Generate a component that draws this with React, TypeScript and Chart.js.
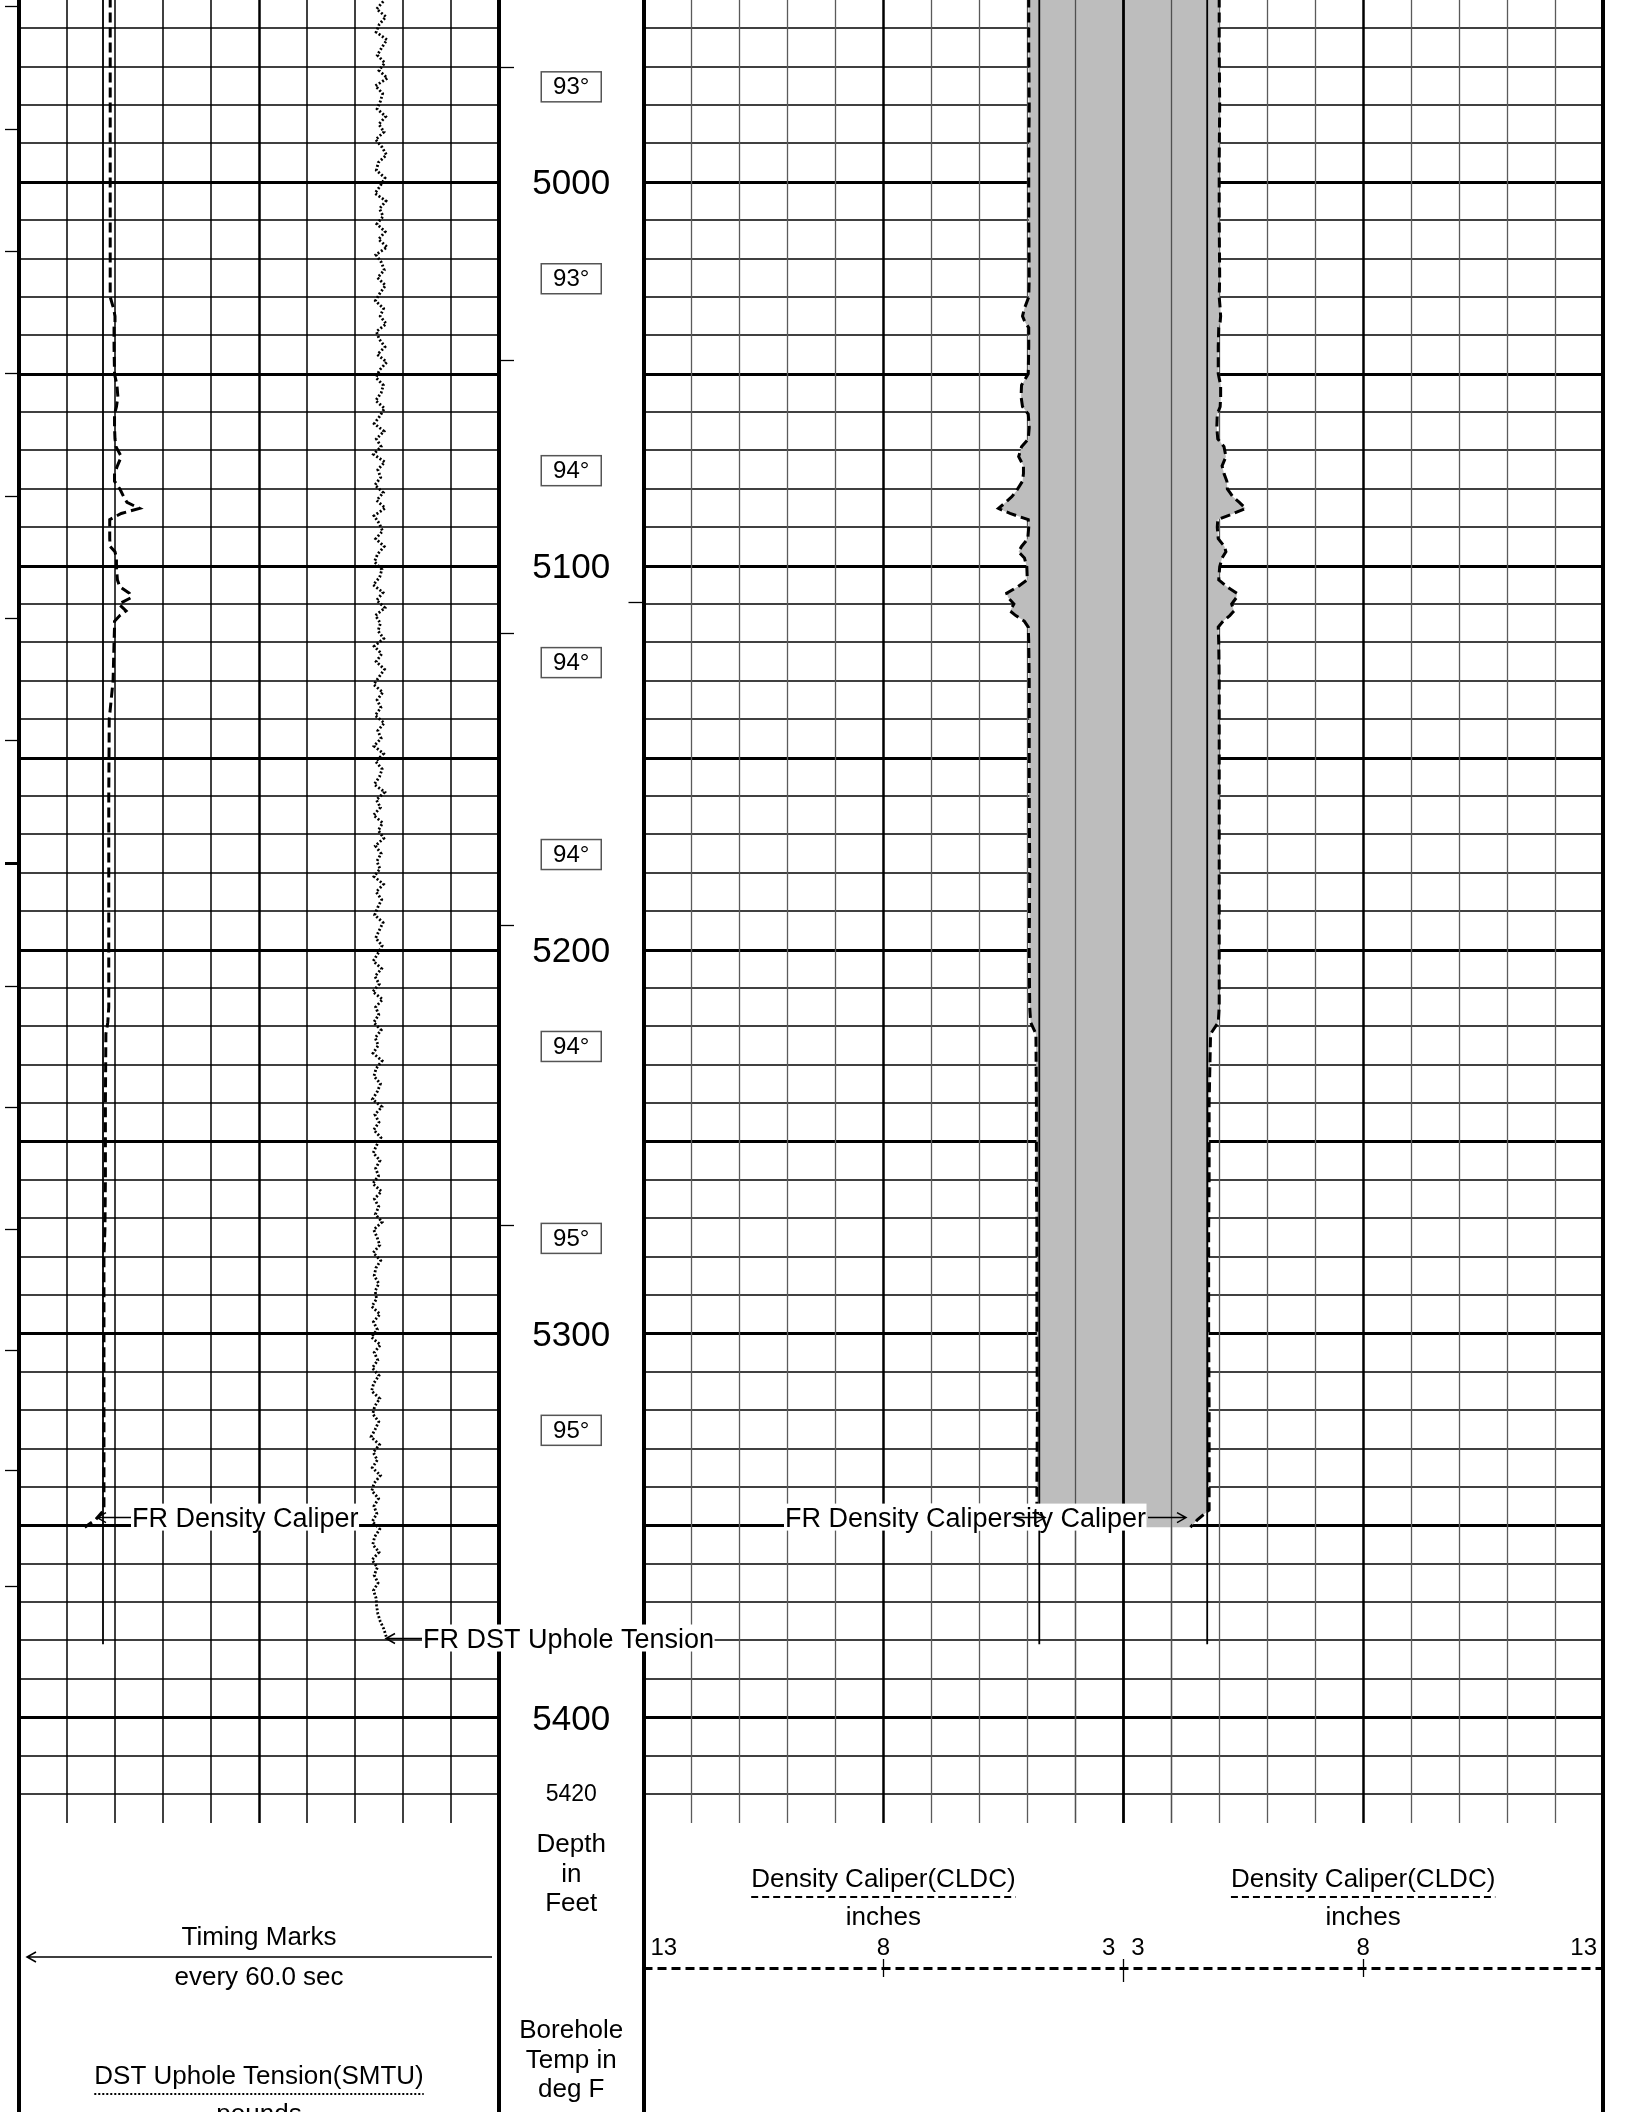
import React, { useEffect, useRef } from "react";
import { Chart, registerables } from "chart.js";

Chart.register(...registerables);

// ---------------- data ----------------
const depthTicks = [5000, 5100, 5200, 5300, 5400];
const bottomDepthLabel = 5420;
const tempDepths = [4975, 5025, 5075, 5125, 5175, 5225, 5275, 5325];
const tempValues = [93, 93, 94, 94, 94, 94, 95, 95];
const timingMarkDepths = [4954.3, 4986.2, 5017.9, 5049.8, 5081.8, 5113.6, 5145.5, 5177.5, 5209.4, 5241.0, 5272.8, 5304.3, 5335.5, 5365.8];
const boldTimingMarkDepth = 5177.5;
const depthTrackMarksLeft = [4970.2, 5046.3, 5117.5, 5193.6, 5271.9];
const depthTrackMarksRight = [5109.5];

const calDepths = [4952, 4965, 4980, 4995, 5010, 5025, 5030, 5033, 5035, 5036.5, 5038, 5043, 5050, 5053, 5056, 5058.6, 5060.5, 5064, 5067, 5069, 5071.6, 5074, 5076, 5078, 5080, 5082, 5083.5, 5085.1, 5086.4, 5088, 5090, 5093, 5095, 5096.4, 5098, 5100.3, 5103.7, 5105.5, 5107.2, 5108.3, 5110, 5111.8, 5113, 5114.5, 5116, 5120, 5130, 5140, 5160, 5180, 5200, 5215, 5219, 5222, 5240, 5260, 5273, 5280, 5300, 5320, 5340, 5346, 5348.5, 5350.5];
const calArmLeft = [
  4.97, 4.97, 4.96, 4.97, 4.97,
  4.96, 4.97, 5.06, 5.10, 5.05,
  4.97, 4.97, 4.98, 5.12, 5.13,
  5.10, 4.98, 4.96, 4.98, 5.12,
  5.18, 5.08, 5.08, 5.10, 5.20,
  5.32, 5.45, 5.60, 5.36, 4.98,
  4.97, 4.99, 5.12, 5.18, 5.06,
  5.01, 5.00, 5.20, 5.43, 5.40,
  5.28, 5.36, 5.24, 5.06, 4.98,
  4.97, 4.96, 4.96, 4.96, 4.95,
  4.96, 4.95, 4.93, 4.82, 4.81,
  4.81, 4.80, 4.80, 4.80, 4.79,
  4.80, 4.80, 4.62, 4.55,
];
const calArmRight = [
  5.00, 5.00, 5.01, 5.00, 5.00,
  5.01, 5.00, 5.02, 5.03, 5.02,
  4.99, 4.98, 4.98, 5.03, 5.03,
  5.02, 4.96, 4.95, 4.97, 5.10,
  5.14, 5.06, 5.10, 5.16, 5.17,
  5.28, 5.42, 5.55, 5.30, 4.97,
  4.96, 4.98, 5.11, 5.14, 5.06,
  5.01, 4.99, 5.16, 5.37, 5.36,
  5.26, 5.31, 5.22, 5.08, 4.98,
  4.99, 5.00, 5.00, 5.00, 5.00,
  5.00, 5.00, 4.98, 4.82, 4.79,
  4.79, 4.78, 4.78, 4.78, 4.79,
  4.79, 4.79, 4.55, 4.40,
];
const calLeftTrack = [
  4.90, 4.90, 4.90, 4.90, 4.90,
  4.90, 4.90, 4.97, 5.00, 5.00,
  4.98, 4.98, 4.99, 5.04, 5.06,
  5.03, 4.99, 4.99, 5.00, 5.02,
  5.13, 5.05, 4.99, 4.99, 5.10,
  5.18, 5.25, 5.51, 5.13, 4.89,
  4.89, 4.89, 4.90, 5.00, 5.03,
  5.03, 5.05, 5.10, 5.30, 5.34,
  5.08, 5.23, 5.10, 4.99, 4.99,
  4.98, 4.96, 4.88, 4.87, 4.87,
  4.87, 4.87, 4.85, 4.81, 4.80,
  4.80, 4.79, 4.77, 4.77, 4.77,
  4.77, 4.77, 4.60, 4.37,
];
const bitSize = 4.75;
const bitDepthRange = [4950, 5381];

const tensionStartDepth = 4953;
const tensionStep = 2;
const tensionValues = [
  15180, 14900, 15290, 15010, 14880, 15330, 15120, 14930, 15240, 15000,
  15350, 14850, 15150, 15060, 14920, 15280, 14990, 15210, 14860, 15130,
  15310, 14970, 14890, 15250, 15060, 14830, 15290, 15020, 15170, 14910,
  15260, 14980, 15340, 14870, 15100, 15220, 14940, 15270, 15040, 14850,
  15190, 15050, 15300, 14890, 15010, 15250, 14930, 15320, 15030, 14870,
  15180, 15090, 14860, 15230,
  15040, 14800, 15210, 14890, 15090, 14770, 15240, 14950, 15070, 14830,
  15180, 14900, 15260, 14790, 15010, 15150, 14860, 15220, 14940, 14810,
  15120, 15030, 14760, 15170, 14900, 15250, 14850, 15060, 14960, 15200,
  14800, 15110, 14880, 15230, 15000, 14780, 15160, 14920, 15080, 14840,
  15220, 14950, 15090, 14790, 15190, 14860, 15130, 15020, 14800, 15240,
  14890, 15060, 14770, 15150, 14970, 15200, 14850, 15090, 14910, 15040,
  14790, 15190, 14880, 15110, 14950, 14820, 15170, 15010, 14860, 15130,
  14960, 14760, 15110, 14830, 15010, 14740, 15150, 14860, 14990, 14780,
  15090, 14840, 14970, 14750, 15130, 14880, 14790, 15060, 14930, 14730,
  15120, 14830, 15000, 14780, 15080, 14900, 14760, 15040, 14860, 14980,
  14740, 15100, 14810, 14990, 14850, 15130, 14780, 14920, 15030, 14760,
  15070, 14870, 14800, 14990, 14840,
  14900, 14700, 15040, 14770, 14930, 14680, 15060, 14800, 14950, 14720,
  15000, 14780, 14690, 15030, 14820, 14740, 14990, 14840, 14670, 15020,
  14760, 14930, 14720, 15060, 14800, 14700, 14980, 14790, 14910, 14720,
  15030, 14820, 14740, 15000, 14710, 14930, 14800, 14960, 14770, 14880,
  14900, 14950, 15050, 15200, 15300,
];
const caliperScaleLabels = ["13", "8", "3"];
const calLabelDepth = 5348;
const tensionLabelDepth = 5379.5;

// ---------------- layout ----------------
const W = 1627;
const H = 2112;
const SANS = '"Liberation Sans", Arial, Helvetica, sans-serif';
const TOP_DEPTH = 4952.64;
const GRID_BOTTOM_DEPTH = 5427.56;
const GRID_BOTTOM_PX = 1823;
const LT = { l: 19, r: 499 };
const DT = { l: 499, r: 643.5 };
const RT = { l: 643.5, r: 1603 };
const CA_L = LT.l;
const CA_R = RT.r;
const lDiv = (LT.r - LT.l) / 10;
const rDiv = (RT.r - RT.l) / 20;
const rC = (RT.l + RT.r) / 2;
const depthCenterX = (DT.l + DT.r) / 2;
const LABEL_FONT = 27;

function hline(ctx: CanvasRenderingContext2D, x1: number, x2: number, y: number, w: number, color: string) {
  ctx.beginPath();
  ctx.lineWidth = w;
  ctx.strokeStyle = color;
  const yy = Math.round(w) % 2 === 1 ? Math.round(y) + 0.5 : Math.round(y);
  ctx.moveTo(x1, yy);
  ctx.lineTo(x2, yy);
  ctx.stroke();
}
function vline(ctx: CanvasRenderingContext2D, x: number, y1: number, y2: number, w: number, color: string) {
  ctx.beginPath();
  ctx.lineWidth = w;
  ctx.strokeStyle = color;
  const xx = Math.round(w) % 2 === 1 ? Math.round(x) + 0.5 : Math.round(x);
  ctx.moveTo(xx, y1);
  ctx.lineTo(xx, y2);
  ctx.stroke();
}
function txt(ctx: CanvasRenderingContext2D, s: string, x: number, y: number, size: number, align: CanvasTextAlign = "center", baseline: CanvasTextBaseline = "middle") {
  ctx.font = `${size}px ${SANS}`;
  ctx.fillStyle = "#000";
  ctx.textAlign = align;
  ctx.textBaseline = baseline;
  ctx.fillText(s, x, y);
}
function arrowH(ctx: CanvasRenderingContext2D, xTail: number, xHead: number, y: number) {
  const dir = xHead > xTail ? 1 : -1;
  ctx.beginPath();
  ctx.lineWidth = 1.5;
  ctx.strokeStyle = "#000";
  ctx.setLineDash([]);
  ctx.moveTo(xTail, y);
  ctx.lineTo(xHead, y);
  ctx.moveTo(xHead - dir * 9, y - 5);
  ctx.lineTo(xHead, y);
  ctx.lineTo(xHead - dir * 9, y + 5);
  ctx.stroke();
}
function boxLabel(ctx: CanvasRenderingContext2D, s: string, x: number, yc: number, align: "left" | "right") {
  ctx.font = `${LABEL_FONT}px ${SANS}`;
  const w = ctx.measureText(s).width;
  const xl = align === "left" ? x : x - w;
  ctx.fillStyle = "#fff";
  ctx.fillRect(xl - 1, yc - 14, w + 1.5, 27);
  txt(ctx, s, xl, yc + 9.5, LABEL_FONT, "left", "alphabetic");
  return xl + w;
}

const logPlugin = {
  id: "logPlugin",
  beforeDraw(chart: any) {
    const ctx = chart.ctx as CanvasRenderingContext2D;
    ctx.save();
    ctx.fillStyle = "#fff";
    ctx.fillRect(0, 0, W, H);
    ctx.restore();
  },
  beforeDatasetsDraw(chart: any) {
    const ctx = chart.ctx as CanvasRenderingContext2D;
    const y = chart.scales.y;
    const xL = chart.scales.xL;
    const xRL = chart.scales.xRL;
    const xRR = chart.scales.xRR;
    ctx.save();
    ctx.setLineDash([]);
    // horizontal grid
    for (let d = 4960; d <= 5420; d += 10) {
      const py = y.getPixelForValue(d);
      const bold = d % 50 === 0;
      hline(ctx, LT.l, LT.r, py, bold ? 2.8 : 1.5, "#000");
      hline(ctx, RT.l, RT.r, py, bold ? 2.8 : 1.5, "#000");
    }
    // vertical grid
    for (let v = 4; v <= 12; v++) {
      const bold = v === 8;
      vline(ctx, xL.getPixelForValue(v), 0, GRID_BOTTOM_PX, bold ? 2.5 : 1.5, "#000");
      vline(ctx, xRL.getPixelForValue(v), 0, GRID_BOTTOM_PX, bold ? 2.5 : 1.3, bold ? "#000" : "#5a5a5a");
      vline(ctx, xRR.getPixelForValue(v), 0, GRID_BOTTOM_PX, bold ? 2.5 : 1.3, bold ? "#000" : "#5a5a5a");
    }
    // caliper shading between arms
    ctx.beginPath();
    calDepths.forEach((d, i) => {
      const px = xRL.getPixelForValue(calArmLeft[i]);
      const py = y.getPixelForValue(d);
      if (i === 0) ctx.moveTo(px, py);
      else ctx.lineTo(px, py);
    });
    for (let i = calDepths.length - 1; i >= 0; i--) {
      ctx.lineTo(xRR.getPixelForValue(calArmRight[i]), y.getPixelForValue(calDepths[i]));
    }
    ctx.closePath();
    ctx.fillStyle = "#bdbdbd";
    ctx.fill();
    // inner vertical lines over shading
    vline(ctx, xRL.getPixelForValue(4), 0, GRID_BOTTOM_PX, 1.3, "#505050");
    vline(ctx, xRR.getPixelForValue(4), 0, GRID_BOTTOM_PX, 1.3, "#505050");
    vline(ctx, xRL.getPixelForValue(3), 0, GRID_BOTTOM_PX, 2.8, "#000");
    ctx.restore();
  },
  afterDraw(chart: any) {
    const ctx = chart.ctx as CanvasRenderingContext2D;
    const y = chart.scales.y;
    const xRL = chart.scales.xRL;
    const xRR = chart.scales.xRR;
    ctx.save();
    ctx.setLineDash([]);
    // track borders
    [LT.l, LT.r, DT.r, RT.r].forEach((x) => vline(ctx, x, 0, H, 4, "#000"));
    // timing marks
    timingMarkDepths.forEach((d) => {
      hline(ctx, 5, LT.l, y.getPixelForValue(d), d === boldTimingMarkDepth ? 3 : 1.3, "#000");
    });
    depthTrackMarksLeft.forEach((d) => hline(ctx, DT.l, DT.l + 15, y.getPixelForValue(d), 1.3, "#000"));
    depthTrackMarksRight.forEach((d) => hline(ctx, DT.r - 15, DT.r, y.getPixelForValue(d), 1.3, "#000"));
    // depth labels
    depthTicks.forEach((d) => txt(ctx, String(d), depthCenterX, y.getPixelForValue(d) + 3, 35));
    txt(ctx, String(bottomDepthLabel), depthCenterX, y.getPixelForValue(bottomDepthLabel) + 1, 23);
    // temperature boxes
    tempDepths.forEach((d, i) => {
      const py = y.getPixelForValue(d) + 1;
      ctx.fillStyle = "#fff";
      ctx.fillRect(depthCenterX - 30, py - 15, 60, 30);
      ctx.lineWidth = 1.5;
      ctx.strokeStyle = "#555";
      ctx.strokeRect(depthCenterX - 30, py - 15, 60, 30);
      txt(ctx, `${tempValues[i]}\u00B0`, depthCenterX, py + 1, 24);
    });

    // curve annotations
    const yc = y.getPixelForValue(calLabelDepth);
    boxLabel(ctx, "FR Density Caliper", 132, yc, "left");
    arrowH(ctx, 131, 97, yc);
    const bEnd = boxLabel(ctx, "FR Density Caliper", 1146, yc, "right");
    arrowH(ctx, bEnd + 2, 1186, yc);
    const aEnd = boxLabel(ctx, "FR Density Caliper", 785, yc, "left");
    arrowH(ctx, aEnd, 1045, yc);
    const yt = y.getPixelForValue(tensionLabelDepth);
    boxLabel(ctx, "FR DST Uphole Tension", 423, yt, "left");
    arrowH(ctx, 422, 386, yt);

    // ---- headers: left track
    const lcx = (LT.l + LT.r) / 2;
    txt(ctx, "Timing Marks", lcx, 1938, 26);
    arrowH(ctx, 492, 27, 1957);
    txt(ctx, "every 60.0 sec", lcx, 1978, 26);
    txt(ctx, "DST Uphole Tension(SMTU)", lcx, 2077, 26);
    ctx.font = `26px ${SANS}`;
    const tw = ctx.measureText("DST Uphole Tension(SMTU)").width;
    ctx.setLineDash([2, 2]);
    hline(ctx, lcx - tw / 2, lcx + tw / 2, 2094, 2, "#000");
    ctx.setLineDash([]);
    txt(ctx, "pounds", lcx, 2122, 26, "center", "alphabetic");

    // ---- headers: depth track
    txt(ctx, "Depth", depthCenterX, 1845, 26);
    txt(ctx, "in", depthCenterX, 1875, 26);
    txt(ctx, "Feet", depthCenterX, 1904, 26);
    txt(ctx, "Borehole", depthCenterX, 2031, 26);
    txt(ctx, "Temp in", depthCenterX, 2061, 26);
    txt(ctx, "deg F", depthCenterX, 2090, 26);

    // ---- headers: right track
    const hx = [xRL.getPixelForValue(8), xRR.getPixelForValue(8)];
    hx.forEach((cx) => {
      txt(ctx, "Density Caliper(CLDC)", cx, 1880, 26);
      ctx.font = `26px ${SANS}`;
      const w = ctx.measureText("Density Caliper(CLDC)").width;
      ctx.setLineDash([7, 4]);
      hline(ctx, cx - w / 2, cx + w / 2, 1897, 2, "#000");
      ctx.setLineDash([]);
      txt(ctx, "inches", cx, 1918, 26);
    });
    txt(ctx, caliperScaleLabels[0], RT.l + 7, 1948, 24, "left");
    txt(ctx, caliperScaleLabels[1], xRL.getPixelForValue(8), 1948, 24, "center");
    txt(ctx, caliperScaleLabels[2], rC - 8, 1948, 24, "right");
    txt(ctx, caliperScaleLabels[2], rC + 8, 1948, 24, "left");
    txt(ctx, caliperScaleLabels[1], xRR.getPixelForValue(8), 1948, 24, "center");
    txt(ctx, caliperScaleLabels[0], RT.r - 6, 1948, 24, "right");
    ctx.setLineDash([9, 5]);
    hline(ctx, RT.l, RT.r, 1968, 3, "#000");
    ctx.setLineDash([]);
    vline(ctx, xRL.getPixelForValue(8), 1959, 1977, 1.3, "#000");
    vline(ctx, xRR.getPixelForValue(8), 1959, 1977, 1.3, "#000");
    vline(ctx, rC, 1959, 1982, 1.3, "#000");
    ctx.restore();
  },
};

function pts(depths: number[], vals: number[]) {
  return depths.map((d, i) => ({ x: vals[i], y: d }));
}

export default function App() {
  const ref = useRef<HTMLCanvasElement | null>(null);
  useEffect(() => {
    document.body.style.margin = "0";
    const canvas = ref.current;
    if (!canvas) return;
    const tensionDepths = tensionValues.map((_, i) => tensionStartDepth + i * tensionStep);
    const lineBase = { showLine: true, pointRadius: 0, borderColor: "#000", tension: 0, fill: false };
    const chart = new Chart(canvas, {
      type: "scatter",
      data: {
        datasets: [
          { ...lineBase, label: "DST Uphole Tension", xAxisID: "xT", yAxisID: "y", data: pts(tensionDepths, tensionValues), borderWidth: 2.8, borderDash: [2, 2] },
          { ...lineBase, label: "Density Caliper (track 1)", xAxisID: "xL", yAxisID: "y", data: pts(calDepths, calLeftTrack), borderWidth: 3, borderDash: [10, 5] },
          { ...lineBase, label: "Bit size (track 1)", xAxisID: "xL", yAxisID: "y", data: pts(bitDepthRange, [bitSize, bitSize]), borderWidth: 1.8 },
          { ...lineBase, label: "Density Caliper left arm", xAxisID: "xRL", yAxisID: "y", data: pts(calDepths, calArmLeft), borderWidth: 3, borderDash: [10, 5] },
          { ...lineBase, label: "Density Caliper right arm", xAxisID: "xRR", yAxisID: "y", data: pts(calDepths, calArmRight), borderWidth: 3, borderDash: [10, 5] },
          { ...lineBase, label: "Bit left", xAxisID: "xRL", yAxisID: "y", data: pts(bitDepthRange, [bitSize, bitSize]), borderWidth: 1.8 },
          { ...lineBase, label: "Bit right", xAxisID: "xRR", yAxisID: "y", data: pts(bitDepthRange, [bitSize, bitSize]), borderWidth: 1.8 },
        ],
      },
      options: {
        responsive: false,
        animation: false,
        devicePixelRatio: 1,
        layout: { padding: { left: CA_L, right: W - CA_R, top: 0, bottom: H - GRID_BOTTOM_PX } },
        plugins: { legend: { display: false }, tooltip: { enabled: false } },
        events: [],
        scales: {
          y: { type: "linear", reverse: true, min: TOP_DEPTH, max: GRID_BOTTOM_DEPTH, display: false },
          xL: { type: "linear", position: "bottom", min: 3, max: 3 + (CA_R - CA_L) / lDiv, display: false },
          xT: { type: "linear", position: "bottom", min: 0, max: ((CA_R - CA_L) / lDiv) * 2000, display: false },
          xRL: { type: "linear", position: "bottom", reverse: true, min: 3 - (CA_R - rC) / rDiv, max: 3 + (rC - CA_L) / rDiv, display: false },
          xRR: { type: "linear", position: "bottom", min: 3 - (rC - CA_L) / rDiv, max: 3 + (CA_R - rC) / rDiv, display: false },
        },
      } as any,
      plugins: [logPlugin as any],
    });
    return () => chart.destroy();
  }, []);
  return <canvas ref={ref} width={W} height={H} style={{ display: "block", width: W, height: H }} />;
}
